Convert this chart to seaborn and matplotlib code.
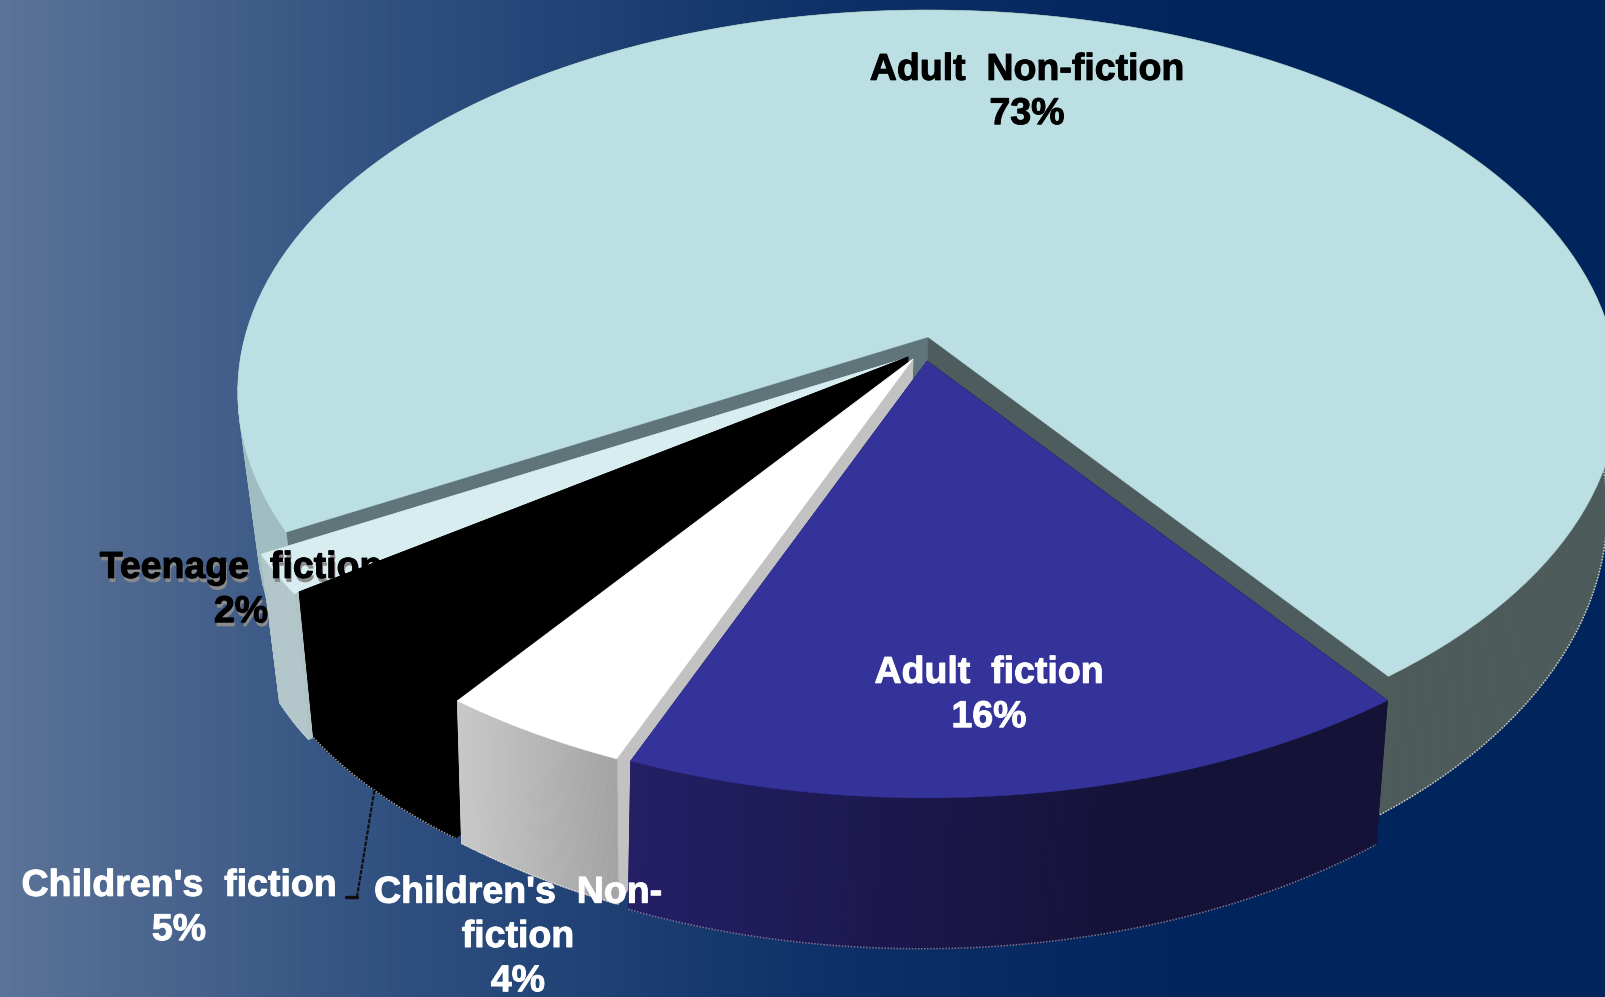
import numpy as np
import matplotlib
matplotlib.use("Agg")
import matplotlib.pyplot as plt
import matplotlib.patheffects as pe
from matplotlib.colors import to_rgb
import seaborn as sns

sns.set_theme(style="white")
plt.rcParams['font.family'] = ['Liberation Sans', 'DejaVu Sans']

# Values, in drawing order round the pie (front first)
categories = ["Adult fiction", "Children's Non-fiction", "Children's fiction", "Teenage fiction", "Adult Non-fiction"]
shares = [16.3, 3.9, 5.2, 1.7, 72.9]
wrapped_names = ["Adult  fiction", "Children's  Non-\nfiction", "Children's  fiction", "Teenage  fiction", "Adult  Non-fiction"]

W, H = 1606, 997
START = 36.6     # angle of first slice edge, from front of the pie
K = 0.1439       # perspective

styles = {
    "Adult Non-fiction": dict(off=(0, 0), drop=(0, 0), top="#bbdfe3", wall=("#a0bec2", "#4e5b5b"), wall_u=(-0.9, 0.55),
                              side_first="#4d5c5c", side_last="#60757a", edge="#c4cccc"),
    "Teenage fiction": dict(off=(-25, 22), drop=(0, 0), top="#d8edf0", wall=("#a9c2c6", "#b3c7cb"), wall_u=(-1, -0.85),
                            side_first="#b0c4c8", side_last="#b0c4c8", edge=None),
    "Children's fiction": dict(off=(-20, 20), drop=(0, 0), top="#000000", wall=("#000000", "#000000"), wall_u=(-1, 1),
                               side_first="#000000", side_last="#000000", edge="#9a9a9a"),
    "Children's Non-fiction": dict(off=(-15, 22), drop=(1, 3), top="#ffffff", wall=("#c8c8c8", "#a6a6a6"), wall_u=(-0.58, -0.38),
                                   side_first="#c0c0c0", side_last="#c2c2c2", edge="#d8d8d8"),
    "Adult fiction": dict(off=(-1, 24), drop=(-3, 6), top="#333399", wall=("#241f66", "#151238"), wall_u=(-0.38, 0.25),
                          side_first="#241f66", side_last="#151238", edge="#7a7596"),
}
label_pos = {
    "Adult Non-fiction": (1027, 92, "black"),
    "Adult fiction": (989, 695, "white"),
    "Teenage fiction": (241, 590, "black"),
    "Children's fiction": (179, 908, "white"),
    "Children's Non-fiction": (518, 937, "white"),
}


def uv(theta):
    t = np.radians(theta)
    return np.sin(t), np.cos(t)


def top_xy(theta, off):
    u, v = uv(theta)
    d = 1 - K * v
    return 928 + off[0] + 683 * u / d, 337 + off[1] + 374 * v / d


def bottom_xy(theta, off):
    u, v = uv(theta)
    d = 1 - K * v
    # the lower rim pulls in on the far left of the picture
    f = np.clip((-u - 0.5) / 0.37, 0, 1) ** 2
    return 925 + off[0] + 675 * u / d + 14 * f, 452 + off[1] + 399.6 * v / d + 20 * f


fig = plt.figure(figsize=(W / 100, H / 100), dpi=100)
ax = fig.add_axes([0, 0, 1, 1])

# background gradient
stops = sns.blend_palette(["#5b7398", "#2f4f7f", "#0f3268", "#00245c", "#00245c"], 128)
grad = np.array(stops)[None, :, :]
ax.imshow(grad, extent=(0, W, H, 0), aspect="auto", interpolation="nearest", zorder=0)

# slice angles from the shares
edges = {}
a = START
for cat, s in zip(categories, shares):
    edges[cat] = (a - s * 3.6, a)
    a -= s * 3.6


def draw_slice(cat, z):
    st = styles[cat]
    off = st["off"]
    low = (off[0] + st["drop"][0], off[1] + st["drop"][1])
    th0, th1 = edges[cat]
    th = np.linspace(th0, th1, 160)
    tx, ty = top_xy(th, off)
    bx, by = bottom_xy(th, low)
    vx, vy = 928 + off[0], 337 + off[1]
    wx, wy = 925 + off[0], 452 + off[1]

    # inner side walls
    ax.fill([vx, tx[0], bx[0], wx], [vy, ty[0], by[0], wy], color=st["side_first"], lw=0.5, zorder=z)
    ax.fill([vx, tx[-1], bx[-1], wx], [vy, ty[-1], by[-1], wy], color=st["side_last"], lw=0.5, zorder=z)

    # outer wall, shaded along its width
    c0, c1 = np.array(to_rgb(st["wall"][0])), np.array(to_rgb(st["wall"][1]))
    u, v = uv(th)
    for i in range(len(th) - 1):
        f = np.clip((u[i] - st["wall_u"][0]) / (st["wall_u"][1] - st["wall_u"][0]), 0, 1)
        col = c0 + (c1 - c0) * f
        ax.fill([tx[i], tx[i + 1], bx[i + 1], bx[i]], [ty[i], ty[i + 1], by[i + 1], by[i]],
                color=col, lw=0.6, zorder=z + 0.1)

    if st["edge"]:
        m = (u > -0.85) & (v > 0)
        ax.plot(bx[m], by[m], color=st["edge"], lw=1.1, ls=(0, (1, 1)), zorder=z + 0.2)

    # top face
    ax.fill(np.r_[vx, tx], np.r_[vy, ty], color=st["top"], lw=0.3, zorder=z + 0.3)


def draw_label(cat, name, share, z, shadow=False):
    x, y, c = label_pos[cat]
    t = ax.text(x, y, f"{name}\n{round(share)}%", ha="center", va="center", color=c, fontsize=27,
                fontweight="bold", linespacing=1.296, zorder=z)
    effects = [pe.withStroke(linewidth=0.7, foreground=c)]
    if shadow:
        effects.insert(0, pe.SimplePatchShadow(offset=(1, -3), shadow_rgbFace="#8a8a8a", alpha=1))
    t.set_path_effects(effects)


names = dict(zip(categories, wrapped_names))
share_of = dict(zip(categories, shares))

draw_slice("Adult Non-fiction", 1)
draw_slice("Teenage fiction", 2)
# the teenage label sits behind the black slice
draw_label("Teenage fiction", names["Teenage fiction"], share_of["Teenage fiction"], 2.8, shadow=True)
draw_slice("Children's fiction", 3)
draw_slice("Children's Non-fiction", 4)
draw_slice("Adult fiction", 5)

# leader line for the children's fiction label
mid = sum(edges["Children's fiction"]) / 2
lx, ly = bottom_xy(mid, styles["Children's fiction"]["off"])
ax.plot([lx, 357], [ly, 897], color="#101010", lw=1.6, ls=(0, (2, 0.6)), zorder=6)
ax.plot([357, 346], [897, 897], color="#101010", lw=2.5, zorder=6)

for cat in ["Adult Non-fiction", "Adult fiction", "Children's fiction", "Children's Non-fiction"]:
    draw_label(cat, names[cat], share_of[cat], 7)

ax.set_xlim(0, W)
ax.set_ylim(H, 0)
ax.axis("off")
fig.savefig("out.png", dpi=100)
